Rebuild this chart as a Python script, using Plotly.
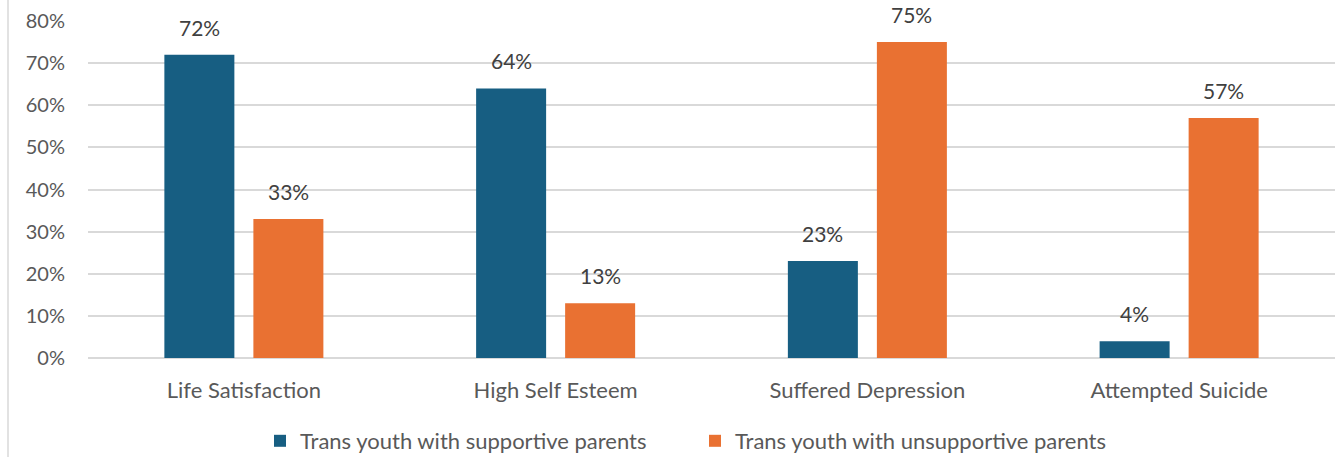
import plotly.graph_objects as go

categories = ["Life Satisfaction", "High Self Esteem", "Suffered Depression", "Attempted Suicide"]
supportive = [72, 64, 23, 4]
unsupportive = [33, 13, 75, 57]
series_names = ["Trans youth with supportive parents", "Trans youth with unsupportive parents"]
y_ticks = [0, 10, 20, 30, 40, 50, 60, 70, 80]
y_ticklabels = [f"{v}%" for v in y_ticks]

BLUE = "#175E82"
ORANGE = "#E97132"
FONT = "Lato"

fig = go.Figure()
fig.add_trace(go.Bar(x=categories, y=supportive, name=series_names[0], marker_color=BLUE,
                     marker_line_width=0))
fig.add_trace(go.Bar(x=categories, y=unsupportive, name=series_names[1], marker_color=ORANGE,
                     marker_line_width=0))

annotations = []
for vals, off in [(supportive, -0.1428), (unsupportive, 0.1428)]:
    for i, v in enumerate(vals):
        annotations.append(dict(x=i + off, y=v, xref="x", yref="y", text=f"{v}%",
                                showarrow=False, yanchor="bottom", yshift=13,
                                font=dict(family=FONT, size=21, color="#404040")))

fig.update_layout(
    width=1335, height=457,
    margin=dict(l=88, r=0, t=21, b=99, autoexpand=False),
    paper_bgcolor="white", plot_bgcolor="white",
    barmode="group", bargap=0.429, bargroupgap=0.2135,
    font=dict(family=FONT, size=21, color="#595959"),
    showlegend=True,
    legend=dict(orientation="h", x=260 / 1335, xref="container", xanchor="left",
                y=1 - 441 / 457, yref="container", yanchor="middle",
                font=dict(family=FONT, size=22, color="#595959"),
                itemwidth=30, traceorder="normal", entrywidth=390),
    annotations=annotations,
    shapes=[dict(type="line", xref="paper", yref="paper",
                 x0=(8 - 88) / 1247, x1=(8 - 88) / 1247, y0=-1, y1=1.2,
                 line=dict(color="#D9D9D9", width=1.5))],
)
fig.update_xaxes(type="category", showgrid=False, showline=False, ticks="", automargin=False,
                 ticklabelstandoff=17, tickfont=dict(family=FONT, size=22, color="#595959"))
fig.update_yaxes(range=[0, 80], tickvals=y_ticks, ticktext=y_ticklabels, showgrid=True,
                 gridcolor="#D9D9D9", gridwidth=1.5, zeroline=True, zerolinecolor="#D9D9D9",
                 zerolinewidth=1.5, showline=False, ticks="", ticklabelstandoff=22, automargin=False,
                 tickfont=dict(family=FONT, size=20, color="#595959"))

fig.write_html("out.html")
